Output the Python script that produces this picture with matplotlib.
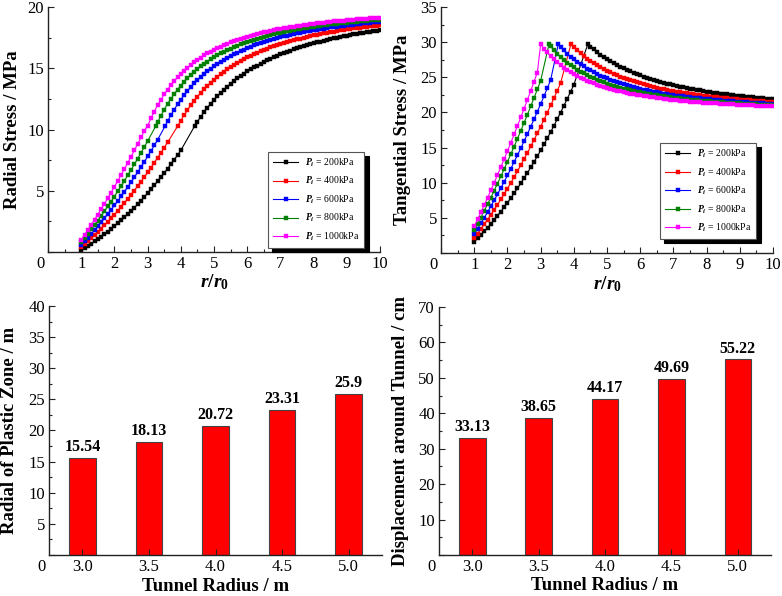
import numpy as np
import matplotlib
matplotlib.use("Agg")
import matplotlib.pyplot as plt
from matplotlib.ticker import MultipleLocator, FuncFormatter

plt.rcParams["font.family"] = "Liberation Serif"
plt.rcParams["mathtext.fontset"] = "custom"
plt.rcParams["mathtext.it"] = "Liberation Serif:italic:bold"
plt.rcParams["mathtext.rm"] = "Liberation Serif:bold"
plt.rcParams["mathtext.bf"] = "Liberation Serif:bold"

# ---------------- data ----------------
pressures = [200, 400, 600, 800, 1000]          # kPa
r_grid = np.round(np.arange(1.0, 10.05, 0.1), 1)  # r/r0 sample points
plastic_radius = [4.42, 3.91, 3.53, 3.25, 3.0]  # r/r0 at the peak
peak_radial = 10.3
peak_tangential = 29.7

# radial stress (MPa), plastic zone (from r/r0 = 1.0) and elastic zone (up to 10.0)
radial_plastic_200 = [0.20, 0.35, 0.52, 0.69, 0.86, 1.05, 1.24, 1.45, 1.66, 1.87,
                      2.10, 2.33, 2.58, 2.83, 3.08, 3.35, 3.62, 3.91, 4.20, 4.49,
                      4.80, 5.11, 5.44, 5.77, 6.10, 6.45, 6.80, 7.17, 7.54, 7.91, 8.30]
radial_elastic_200 = [10.64, 11.04, 11.42, 11.78, 12.11, 12.42, 12.71, 12.99, 13.25, 13.50,
                      13.74, 13.96, 14.17, 14.37, 14.56, 14.74, 14.91, 15.07, 15.22, 15.37,
                      15.51, 15.65, 15.78, 15.90, 16.02, 16.13, 16.24, 16.34, 16.44, 16.54,
                      16.63, 16.72, 16.80, 16.88, 16.96, 17.04, 17.11, 17.18, 17.25, 17.31,
                      17.38, 17.44, 17.50, 17.55, 17.61, 17.66, 17.71, 17.76, 17.81, 17.85,
                      17.90, 17.94, 17.99, 18.03, 18.07, 18.10]
radial_plastic_400 = [0.40, 0.63, 0.87, 1.11, 1.36, 1.63, 1.89, 2.17, 2.46, 2.75,
                      3.05, 3.36, 3.68, 4.00, 4.33, 4.68, 5.02, 5.38, 5.75, 6.12,
                      6.50, 6.89, 7.29, 7.69, 8.10, 8.53, 8.95]
radial_elastic_400 = [10.73, 11.18, 11.59, 11.98, 12.34, 12.68, 12.99, 13.29, 13.56, 13.82,
                      14.07, 14.30, 14.52, 14.72, 14.91, 15.10, 15.27, 15.44, 15.59, 15.74,
                      15.88, 16.02, 16.14, 16.26, 16.38, 16.49, 16.60, 16.70, 16.79, 16.89,
                      16.97, 17.06, 17.14, 17.22, 17.29, 17.36, 17.43, 17.50, 17.56, 17.62,
                      17.68, 17.74, 17.79, 17.85, 17.90, 17.95, 17.99, 18.04, 18.09, 18.13,
                      18.17, 18.21, 18.25, 18.29, 18.32, 18.36, 18.39, 18.42, 18.46, 18.49,
                      18.52]
radial_plastic_600 = [0.60, 0.88, 1.18, 1.48, 1.78, 2.10, 2.42, 2.76, 3.10, 3.44,
                      3.80, 4.16, 4.54, 4.92, 5.30, 5.70, 6.10, 6.52, 6.94, 7.36,
                      7.80, 8.24, 8.70, 9.16]
radial_elastic_600 = [10.67, 11.17, 11.63, 12.05,
                      12.44, 12.81, 13.15, 13.46, 13.76, 14.03, 14.29, 14.53, 14.75, 14.96,
                      15.16, 15.35, 15.53, 15.70, 15.85, 16.00, 16.14, 16.28, 16.41, 16.53,
                      16.64, 16.75, 16.86, 16.95, 17.05, 17.14, 17.22, 17.31, 17.38, 17.46,
                      17.53, 17.60, 17.67, 17.73, 17.79, 17.85, 17.91, 17.96, 18.01, 18.06,
                      18.11, 18.16, 18.20, 18.24, 18.29, 18.33, 18.37, 18.40, 18.44, 18.47,
                      18.51, 18.54, 18.57, 18.60, 18.63, 18.66, 18.69, 18.71, 18.74, 18.77,
                      18.79]
radial_plastic_800 = [0.80, 1.14, 1.48, 1.84, 2.20, 2.57, 2.94, 3.33, 3.72, 4.12,
                      4.53, 4.95, 5.37, 5.81, 6.25, 6.70, 7.15, 7.62, 8.09, 8.57, 9.06]
radial_elastic_800 = [10.59, 11.13, 11.63, 12.09, 12.51, 12.90, 13.26,
                      13.59, 13.90, 14.19, 14.46, 14.71, 14.94, 15.16, 15.36, 15.55, 15.73,
                      15.90, 16.06, 16.21, 16.35, 16.49, 16.61, 16.73, 16.84, 16.95, 17.06,
                      17.15, 17.25, 17.33, 17.42, 17.50, 17.57, 17.65, 17.72, 17.78, 17.85,
                      17.91, 17.97, 18.02, 18.08, 18.13, 18.18, 18.23, 18.27, 18.31, 18.36,
                      18.40, 18.44, 18.48, 18.51, 18.55, 18.58, 18.61, 18.65, 18.68, 18.71,
                      18.73, 18.76, 18.79, 18.81, 18.84, 18.86, 18.89, 18.91, 18.93, 18.95,
                      18.97]
radial_plastic_1000 = [1.00, 1.40, 1.80, 2.21, 2.63, 3.06, 3.50, 3.94, 4.39, 4.85,
                       5.32, 5.80, 6.28, 6.77, 7.27, 7.78, 8.30, 8.82, 9.35, 9.89]
radial_elastic_1000 = [10.92, 11.47, 11.98, 12.45, 12.87, 13.26, 13.62, 13.95, 14.26,
                       14.54, 14.81, 15.05, 15.28, 15.49, 15.69, 15.87, 16.05, 16.21, 16.36,
                       16.51, 16.64, 16.77, 16.89, 17.01, 17.11, 17.22, 17.31, 17.40, 17.49,
                       17.57, 17.65, 17.73, 17.80, 17.87, 17.93, 18.00, 18.05, 18.11, 18.17,
                       18.22, 18.27, 18.32, 18.36, 18.41, 18.45, 18.49, 18.53, 18.56, 18.60,
                       18.64, 18.67, 18.70, 18.73, 18.76, 18.79, 18.82, 18.85, 18.87, 18.90,
                       18.92, 18.95, 18.97, 18.99, 19.01, 19.03, 19.05, 19.07, 19.09, 19.11,
                       19.13]

# tangential stress (MPa)
tang_plastic_200 = [1.60, 2.07, 2.56, 3.07, 3.59, 4.14, 4.70, 5.29, 5.89, 6.51,
                    7.15, 7.81, 8.49, 9.19, 9.90, 10.64, 11.39, 12.17, 12.96, 13.77,
                    14.60, 15.45, 16.32, 17.21, 18.11, 19.04, 19.98, 20.95, 21.93, 22.93, 23.95]
tang_elastic_200 = [29.36, 28.96, 28.58, 28.22, 27.89, 27.58, 27.29, 27.01, 26.75, 26.50,
                    26.26, 26.04, 25.83, 25.63, 25.44, 25.26, 25.09, 24.93, 24.78, 24.63,
                    24.49, 24.35, 24.22, 24.10, 23.98, 23.87, 23.76, 23.66, 23.56, 23.46,
                    23.37, 23.28, 23.20, 23.12, 23.04, 22.96, 22.89, 22.82, 22.75, 22.69,
                    22.62, 22.56, 22.50, 22.45, 22.39, 22.34, 22.29, 22.24, 22.19, 22.15,
                    22.10, 22.06, 22.01, 21.97, 21.93, 21.90]
tang_plastic_400 = [2.15, 2.77, 3.41, 4.07, 4.74, 5.44, 6.15, 6.88, 7.62, 8.39,
                    9.17, 9.97, 10.79, 11.63, 12.48, 13.36, 14.25, 15.16, 16.08, 17.03,
                    17.99, 18.97, 19.97, 20.99, 22.02, 23.08, 24.15]
tang_elastic_400 = [29.27, 28.82, 28.41, 28.02, 27.66, 27.32, 27.01, 26.71, 26.44, 26.18,
                    25.93, 25.70, 25.48, 25.28, 25.09, 24.90, 24.73, 24.56, 24.41, 24.26,
                    24.12, 23.98, 23.86, 23.74, 23.62, 23.51, 23.40, 23.30, 23.21, 23.11,
                    23.03, 22.94, 22.86, 22.78, 22.71, 22.64, 22.57, 22.50, 22.44, 22.38,
                    22.32, 22.26, 22.21, 22.15, 22.10, 22.05, 22.01, 21.96, 21.91, 21.87,
                    21.83, 21.79, 21.75, 21.71, 21.68, 21.64, 21.61, 21.58, 21.54, 21.51,
                    21.48]
tang_plastic_600 = [2.70, 3.45, 4.23, 5.02, 5.82, 6.65, 7.49, 8.36, 9.24, 10.13,
                    11.05, 11.98, 12.94, 13.91, 14.89, 15.90, 16.92, 17.97, 19.03, 20.10,
                    21.20, 22.31, 23.45, 24.60]
tang_elastic_600 = [29.33, 28.83, 28.37, 27.95,
                    27.56, 27.19, 26.85, 26.54, 26.24, 25.97, 25.71, 25.47, 25.25, 25.04,
                    24.84, 24.65, 24.47, 24.30, 24.15, 24.00, 23.86, 23.72, 23.59, 23.47,
                    23.36, 23.25, 23.14, 23.05, 22.95, 22.86, 22.78, 22.69, 22.62, 22.54,
                    22.47, 22.40, 22.33, 22.27, 22.21, 22.15, 22.09, 22.04, 21.99, 21.94,
                    21.89, 21.84, 21.80, 21.76, 21.71, 21.67, 21.63, 21.60, 21.56, 21.53,
                    21.49, 21.46, 21.43, 21.40, 21.37, 21.34, 21.31, 21.29, 21.26, 21.23,
                    21.21]
tang_plastic_800 = [3.25, 4.14, 5.05, 5.98, 6.93, 7.89, 8.87, 9.87, 10.89, 11.93,
                    12.98, 14.05, 15.14, 16.25, 17.38, 18.52, 19.68, 20.86, 22.06, 23.28, 24.51]
tang_elastic_800 = [29.41, 28.87, 28.37, 27.91, 27.49, 27.10, 26.74,
                    26.41, 26.10, 25.81, 25.54, 25.29, 25.06, 24.84, 24.64, 24.45, 24.27,
                    24.10, 23.94, 23.79, 23.65, 23.51, 23.39, 23.27, 23.16, 23.05, 22.94,
                    22.85, 22.75, 22.67, 22.58, 22.50, 22.43, 22.35, 22.28, 22.22, 22.15,
                    22.09, 22.03, 21.98, 21.92, 21.87, 21.82, 21.77, 21.73, 21.69, 21.64,
                    21.60, 21.56, 21.52, 21.49, 21.45, 21.42, 21.39, 21.35, 21.32, 21.29,
                    21.27, 21.24, 21.21, 21.19, 21.16, 21.14, 21.11, 21.09, 21.07, 21.05,
                    21.03]
tang_plastic_1000 = [3.80, 4.79, 5.80, 6.82, 7.86, 8.93, 10.00, 11.10, 12.22, 13.35,
                     14.50, 15.67, 16.86, 18.06, 19.28, 20.53, 21.78, 23.06, 24.36, 25.67]
tang_elastic_1000 = [29.08, 28.53, 28.02, 27.55, 27.13, 26.74, 26.38, 26.05, 25.74,
                     25.46, 25.19, 24.95, 24.72, 24.51, 24.31, 24.13, 23.95, 23.79, 23.64,
                     23.49, 23.36, 23.23, 23.11, 22.99, 22.89, 22.78, 22.69, 22.60, 22.51,
                     22.43, 22.35, 22.27, 22.20, 22.13, 22.07, 22.00, 21.95, 21.89, 21.83,
                     21.78, 21.73, 21.68, 21.64, 21.59, 21.55, 21.51, 21.47, 21.44, 21.40,
                     21.36, 21.33, 21.30, 21.27, 21.24, 21.21, 21.18, 21.15, 21.13, 21.10,
                     21.08, 21.05, 21.03, 21.01, 20.99, 20.97, 20.95, 20.93, 20.91, 20.89,
                     20.87]

tunnel_radius = [3.0, 3.5, 4.0, 4.5, 5.0]
plastic_zone = [15.54, 18.13, 20.72, 23.31, 25.9]
displacement = [33.13, 38.65, 44.17, 49.69, 55.22]

# ---------------- styling ----------------
colors = ["black", "#ff0000", "#0000ff", "#008000", "#ff00ff"]
radial_sets = [(radial_plastic_200, radial_elastic_200), (radial_plastic_400, radial_elastic_400),
               (radial_plastic_600, radial_elastic_600), (radial_plastic_800, radial_elastic_800),
               (radial_plastic_1000, radial_elastic_1000)]
tang_sets = [(tang_plastic_200, tang_elastic_200), (tang_plastic_400, tang_elastic_400),
             (tang_plastic_600, tang_elastic_600), (tang_plastic_800, tang_elastic_800),
             (tang_plastic_1000, tang_elastic_1000)]

TICK_FS = 12
LABEL_FS = 13.5


def build_series(plastic, rp, peak, elastic):
    x = np.concatenate([r_grid[:len(plastic)], [rp], r_grid[len(r_grid) - len(elastic):]])
    y = np.concatenate([plastic, [peak], elastic])
    return x, y


def hide_zero(v, pos):
    return "" if abs(v) < 1e-9 else f"{v:g}"


def style_axes(ax, ymax, ymaj, xlabel, ylabel, ylab_x, xlab_y):
    for s in ["top", "right"]:
        ax.spines[s].set_visible(False)
    for s in ["left", "bottom"]:
        ax.spines[s].set_linewidth(1.0)
        ax.spines[s].set_color("#222222")
    ax.set_ylim(0, ymax)
    ax.yaxis.set_major_locator(MultipleLocator(ymaj))
    ax.yaxis.set_minor_locator(MultipleLocator(ymaj / 2))
    ax.yaxis.set_major_formatter(FuncFormatter(hide_zero))
    ax.tick_params(which="both", direction="in", top=False, right=False,
                   labelsize=TICK_FS, width=0.8, color="#222222", pad=3)
    ax.tick_params(which="major", length=4.5)
    ax.tick_params(which="minor", length=2.5)
    ax.set_xlabel(xlabel, fontsize=LABEL_FS, fontweight="bold", va="center")
    ax.set_ylabel(ylabel, fontsize=LABEL_FS, fontweight="bold", va="center")
    ax.yaxis.set_label_coords(ylab_x, 0.5)
    ax.xaxis.set_label_coords(0.5, xlab_y)
    ax.annotate("0", xy=(0, 0), xycoords="axes fraction", xytext=(-5.5, -3),
                textcoords="offset points", ha="center", va="top", fontsize=TICK_FS)


def curve_panel(ax, sets, peak, ymax, ylabel, ylab_x, legend_anchor):
    for (plastic, elastic), rp, c, p in zip(sets, plastic_radius, colors, pressures):
        x, y = build_series(plastic, rp, peak, elastic)
        ax.plot(x, y, color=c, lw=0.8, marker="s", markersize=2.6,
                markeredgewidth=0.3, markeredgecolor=c, label=rf"$P_i$ = {p}kPa")
    ax.set_xlim(0, 10)
    ax.xaxis.set_major_locator(MultipleLocator(1))
    ax.xaxis.set_minor_locator(MultipleLocator(0.5))
    ax.xaxis.set_major_formatter(FuncFormatter(hide_zero))
    style_axes(ax, ymax, 5, r"$r/r_{\mathrm{0}}$", ylabel, ylab_x, -0.125)
    ax.xaxis.label.set_fontsize(14)
    leg = ax.legend(loc="upper left", bbox_to_anchor=legend_anchor, fontsize=7,
                    handlelength=2.6, handletextpad=0.7, labelspacing=0.62,
                    borderpad=0.5, numpoints=1, fancybox=False,
                    shadow={"color": "black", "alpha": 1.0, "ox": 3, "oy": -3},
                    edgecolor="#555555", framealpha=1.0)
    leg.get_frame().set_linewidth(0.8)


def bar_panel(ax, values, ymax, ymaj, ylabel, ylab_x):
    ax.bar(tunnel_radius, values, width=0.2, color="#ff0000",
           edgecolor="#444444", linewidth=0.8)
    for x, v in zip(tunnel_radius, values):
        ax.annotate(f"{v:g}", xy=(x, v), xytext=(0, 2), textcoords="offset points",
                    ha="center", va="bottom", fontsize=11.5, fontweight="bold")
    ax.set_xlim(2.75, 5.25)
    ax.set_xticks(tunnel_radius)
    ax.set_xticklabels([f"{t:.1f}" for t in tunnel_radius])
    style_axes(ax, ymax, ymaj, "Tunnel Radius / m", ylabel, ylab_x, -0.125)


fig = plt.figure(figsize=(7.82, 5.96), dpi=100)
ax1 = fig.add_axes([0.0614, 0.5772, 0.4246, 0.411])
ax2 = fig.add_axes([0.5640, 0.5755, 0.4246, 0.4128])
ax3 = fig.add_axes([0.0627, 0.0688, 0.4258, 0.4178])
ax4 = fig.add_axes([0.5614, 0.0688, 0.4246, 0.4161])

curve_panel(ax1, radial_sets, peak_radial, 20, "Radial Stress / MPa", -0.108, (0.648, 0.43))
curve_panel(ax2, tang_sets, peak_tangential, 35, "Tangential Stress / MPa", -0.117, (0.645, 0.468))
bar_panel(ax3, plastic_zone, 40, 5, "Radial of Plastic Zone / m", -0.12)
bar_panel(ax4, displacement, 70, 10, "Displacement around Tunnel / cm", -0.117)

fig.savefig("out.png", dpi=100)
